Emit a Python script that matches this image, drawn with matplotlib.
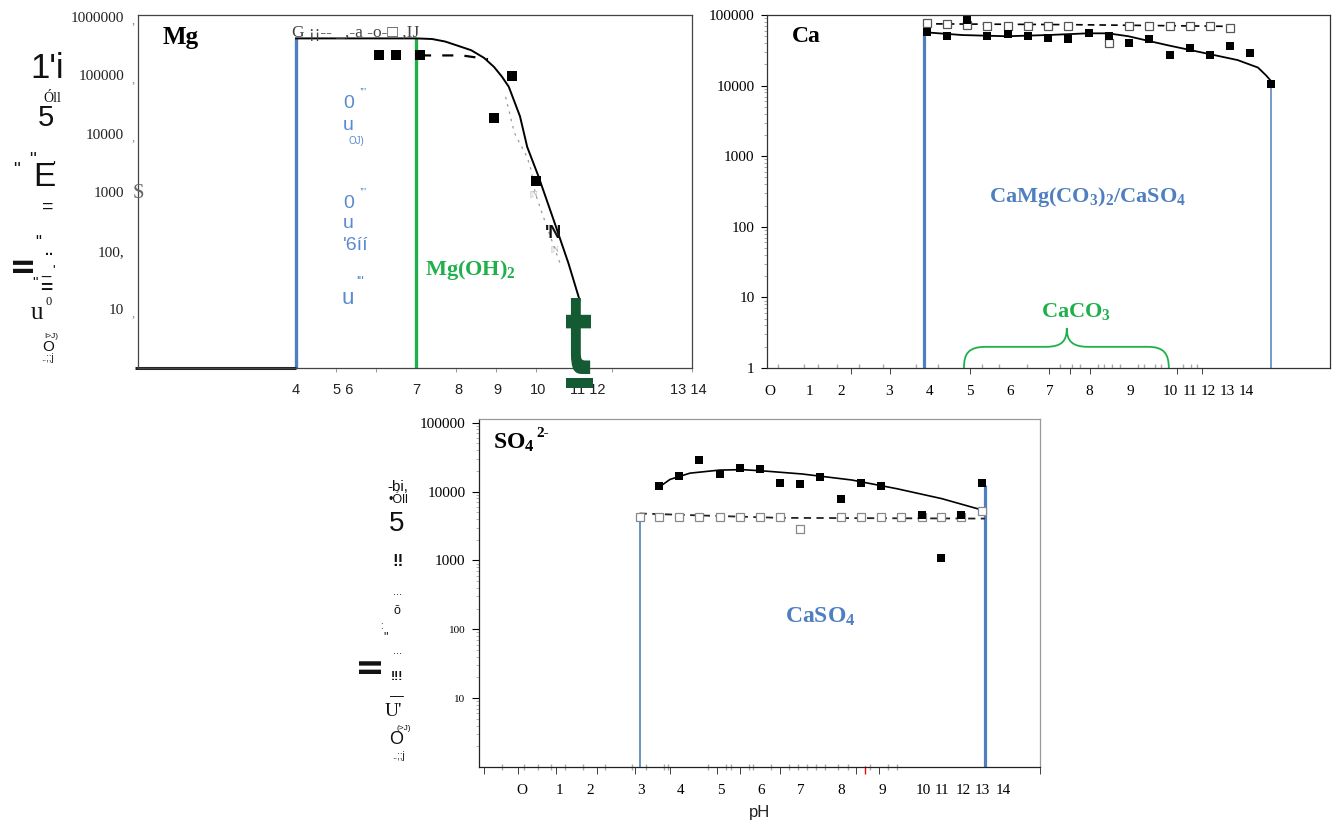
import matplotlib
matplotlib.use('Agg')
import matplotlib.pyplot as plt
from matplotlib.textpath import TextPath
from matplotlib.patches import PathPatch, Rectangle
from matplotlib.font_manager import FontProperties
from matplotlib.transforms import Affine2D, IdentityTransform, blended_transform_factory
from matplotlib.path import Path
from matplotlib.ticker import NullLocator, LogLocator

W, H = 1333, 824
plt.rcParams['mathtext.default'] = 'regular'
SERIF = ['Liberation Serif', 'DejaVu Serif']
SANS = ['Liberation Sans', 'DejaVu Sans']
BLUE = '#4f7fc0'
BLUE2 = '#5b8ad0'
GREEN = '#1fb04c'
DKGREEN = '#145a32'

# ---------------- data: Mg ----------------
mg_curve_ph = [4.0, 5.5, 7.0, 7.4, 7.73, 8.0, 8.38, 8.7, 8.95, 9.15, 9.32, 9.6, 9.78, 10.06, 10.44, 10.81, 11.09]
mg_curve_val = [4.3e5, 4.3e5, 4.3e5, 4.2e5, 3.8e5, 3.3e5, 2.7e5, 2.0e5, 1.4e5, 9.5e4, 6.4e4, 2.0e4, 6.0e3, 1.9e3, 3.4e2, 62, 14.5]
mg_sq_ph = [6.07, 6.49, 7.1, 9.41, 8.95, 9.99]
mg_sq_val = [2.2e5, 2.2e5, 2.2e5, 9.9e4, 1.9e4, 1.57e3]
mg_dash_ph = [7.1, 8.15, 8.8]
mg_dash_val = [2.2e5, 2.2e5, 1.9e5]
mg_gray_ph = [9.24, 9.46, 9.78, 9.88, 9.98, 10.15, 10.48, 10.6]
mg_gray_val = [4.3e4, 1.04e4, 4.0e3, 2.4e3, 980, 445, 104, 62]
mg_vline_blue = 4.0
mg_vline_green = 7.0
mg_vline_top = 4.3e5
mg_xlabel_pos = [4, 5.19, 7, 8.05, 9.04, 10.04, 11.3, 13.8]
mg_xlabels = ['4', '5 6', '7', '8', '9', '10', '11 12', '13 14']
mg_xmark_pos = [4, 5, 6, 7, 8, 9, 10, 11.9, 13.9]
mg_ytick_val = [10, 100, 1000, 1e4, 1e5, 1e6]
mg_ylabels = ['10', '100,', '1000', '10000', '100000', '1000000']

# ---------------- data: Ca ----------------
ca_curve_ph = [3.86, 4.81, 5.92, 6.93, 7.95, 8.45, 8.96, 9.46, 9.97, 10.98, 11.69, 12.2, 12.4, 12.52]
ca_curve_val = [5.7e4, 5.2e4, 5.0e4, 5.2e4, 5.5e4, 5.5e4, 5.0e4, 4.3e4, 3.7e4, 2.8e4, 2.3e4, 1.8e4, 1.4e4, 1.17e4]
ca_fill_ph = [3.93, 4.42, 4.93, 5.43, 5.94, 6.45, 6.95, 7.46, 7.97, 8.47, 8.98, 9.48, 9.99, 10.5, 11.0, 11.5, 12.0, 12.52]
ca_fill_val = [5.7e4, 5.0e4, 8.6e4, 5.0e4, 5.4e4, 5.0e4, 4.8e4, 4.6e4, 5.5e4, 5.1e4, 4.0e4, 4.5e4, 2.7e4, 3.4e4, 2.7e4, 3.6e4, 2.9e4, 1.07e4]
ca_open_ph = [3.93, 4.43, 4.93, 5.43, 5.94, 6.45, 6.95, 7.46, 8.47, 8.98, 9.48, 9.99, 10.5, 11.0, 11.5]
ca_open_val = [7.6e4, 7.4e4, 7.2e4, 6.9e4, 6.9e4, 6.9e4, 6.9e4, 6.9e4, 4.0e4, 6.9e4, 6.9e4, 6.9e4, 6.9e4, 6.9e4, 6.6e4]
ca_dash_ph = [3.86, 7.5, 11.5]
ca_dash_val = [7.5e4, 7.3e4, 6.9e4]
ca_vline_thick = (3.86, 5.7e4)
ca_vline_thin = (12.52, 1.1e4)
ca_xlabel_pos = [0, 0.98, 1.77, 2.97, 3.98, 5.0, 6.0, 7.0, 7.99, 9.02, 10.0, 10.5, 10.95, 11.42, 11.9]
ca_xlabels = ['O', '1', '2', '3', '4', '5', '6', '7', '8', '9', '10', '11', '12', '13', '14']
ca_xmark_pos = [0, 0.98, 2.02, 2.99, 3.98, 4.99, 6.0, 6.98, 7.5, 8.0, 9.02, 10.17, 10.81]
ca_gray_pos = [0.2, 0.84, 1.21, 1.67, 2.23, 2.83, 3.64, 4.2, 5.31, 5.72, 6.43, 7.24, 7.54, 7.74, 8.2,
               8.35, 8.55, 8.76, 9.21, 9.36, 9.62, 9.77, 10.32, 10.53, 10.68]
ca_ytick_val = [1, 10, 100, 1000, 1e4, 1e5]
ca_ylabels = ['1', '10', '100', '1000', '10000', '100000']

# ---------------- data: SO4 ----------------
so4_curve_ph = [3.42, 3.7, 4.2, 4.94, 5.5, 6.0, 7.0, 8.25, 9.37, 10.49, 11.5]
so4_curve_val = [1.15e4, 1.5e4, 1.85e4, 2.05e4, 2.08e4, 2.0e4, 1.8e4, 1.47e4, 1.1e4, 7.9e3, 5.4e3]
so4_fill_ph = [3.42, 3.93, 4.43, 4.94, 5.44, 5.95, 6.45, 6.96, 7.46, 7.97, 8.47, 8.98, 9.99, 10.47, 10.98, 11.5]
so4_fill_val = [1.2e4, 1.66e4, 2.9e4, 1.8e4, 2.2e4, 2.1e4, 1.35e4, 1.28e4, 1.6e4, 7.9e3, 1.33e4, 1.2e4, 4.6e3, 1.07e3, 4.6e3, 1.33e4]
so4_open_ph = [2.94, 3.43, 3.93, 4.43, 4.94, 5.44, 5.95, 6.45, 6.96, 7.97, 8.47, 8.98, 9.48, 9.99, 10.47, 10.98, 11.5]
so4_open_val = [4.2e3, 4.2e3, 4.2e3, 4.2e3, 4.2e3, 4.2e3, 4.2e3, 4.2e3, 2.9e3, 4.2e3, 4.2e3, 4.2e3, 4.2e3, 4.2e3, 4.2e3, 4.2e3, 5.2e3]
so4_dash_ph = [2.94, 5.0, 6.45, 11.57]
so4_dash_val = [4.8e3, 4.4e3, 4.15e3, 4.05e3]
so4_vline_thin = (2.94, 4.3e3)
so4_vline_thick = (11.57, 1.24e4)
so4_xlabel_pos = [0, 0.93, 1.71, 2.97, 3.96, 4.96, 5.97, 6.96, 7.99, 9.0, 10.04, 10.5, 11.02, 11.5, 12.04]
so4_xlabels = ['O', '1', '2', '3', '4', '5', '6', '7', '8', '9', '10', '11', '12', '13', '14']
so4_xmark_pos = [-0.95, -0.11, 0.84, 1.87, 2.83, 3.7, 4.88, 5.44, 5.97, 6.45, 8.36, 8.92, 12.95]
so4_gray_pos = [-0.5, 0.06, 0.39, 0.73, 1.07, 1.52, 2.08, 2.75, 3.09, 3.54, 3.65, 4.66, 5.11, 5.22, 5.67,
                5.78, 6.23, 6.68, 6.9, 7.13, 7.35, 7.58, 7.91, 8.14, 8.7, 9.15, 9.37]
so4_red_pos = 8.57
so4_ytick_val = [10, 100, 1000, 1e4, 1e5]
so4_ylabels = ['10', '100', '1000', '10000', '100000']

# ---------------- figure ----------------
fig = plt.figure(figsize=(W / 100, H / 100), dpi=100)


def add_ax(l, t, r, b):
    return fig.add_axes([l / W, 1 - b / H, (r - l) / W, (b - t) / H])


def ftext(px, py, s, **kw):
    kw.setdefault('ha', 'center')
    kw.setdefault('va', 'center')
    return fig.text(px / W, 1 - py / H, s, **kw)


def bx(ax):
    return blended_transform_factory(ax.transData, ax.transAxes)


# ======== Mg panel ========
ax1 = add_ax(138, 15, 692, 368)
ax1.set_yscale('log')
ax1.set_xlim(0.05, 13.9)
ax1.set_ylim(1, 1.08e6)
ax1.vlines([mg_vline_blue], 1, mg_vline_top, color=BLUE, lw=2.4)
ax1.vlines([mg_vline_green], 1, mg_vline_top, color=GREEN, lw=2.4)
ax1.plot(mg_gray_ph, mg_gray_val, color='#9a9a9a', lw=0.9, ls=(0, (2, 4)))
ax1.plot(mg_curve_ph, mg_curve_val, color='k', lw=1.4)
ax1.plot(mg_dash_ph, mg_dash_val, color='k', lw=1.6, ls=(0, (5, 5)))
ax1.plot(mg_sq_ph, mg_sq_val, 's', color='k', ms=7.5, mew=0)
ax1.yaxis.set_minor_locator(NullLocator())
ax1.set_yticks(mg_ytick_val, mg_ylabels)
ax1.tick_params(axis='y', length=0, pad=10, labelsize=11, labelcolor='#222')
for lab in ax1.get_yticklabels():
    lab.set_fontfamily(SERIF)
ax1.set_xticks(mg_xlabel_pos, mg_xlabels)
ax1.set_xticks(mg_xmark_pos, minor=True)
ax1.tick_params(axis='x', which='major', length=0, pad=11, labelsize=10.5, labelcolor='#222')
ax1.tick_params(axis='x', which='minor', length=3, color='#888', direction='out')
for lab in ax1.get_xticklabels():
    lab.set_fontfamily(SANS)
for s in ax1.spines.values():
    s.set_color('#444')
    s.set_linewidth(0.9)
ax1.plot([-0.03, 4.0], [0, 0], transform=bx(ax1), color='#222', lw=2.2,
         clip_on=False, solid_capstyle='butt')
yb1 = blended_transform_factory(ax1.transAxes, ax1.transData)
for v in [10, 1e4, 1e5, 1e6]:
    ax1.text(-0.006, v * 0.85, ',', transform=yb1, ha='right', va='center',
             color='#888', fontsize=9, family=SERIF)
ftext(138, 194, 'S', color='#666', fontsize=15, family=SERIF)
ftext(292, 33, 'G ¡¡-- _,-a -o-□ ,IJ', ha='left', color='#444', fontsize=12.5, family=SERIF)
ax1.text(0.045, 0.935, 'Mg', transform=ax1.transAxes, fontsize=18, fontweight='bold',
         family=SERIF, va='center')
ax1.text(0.518, 0.278, 'Mg(OH)$_2$', transform=ax1.transAxes, color=GREEN, fontsize=16,
         fontweight='bold', family=SERIF, va='center')
ftext(554, 234, "'N", fontsize=13, fontweight='bold', family=SANS, color='#111')
for (px, py) in [(555, 250), (534, 195)]:
    ftext(px, py, '[N', fontsize=6, color='#aaa', family=SERIF)

# blue garbage glyphs
for (px, py, s, fs) in [(349, 104, '0', 14), (363, 94, '’’’', 9), (348, 125, 'u', 14),
                        (356, 141, 'OJ)', 7), (349, 204, '0', 14), (363, 194, '’’’', 9),
                        (348, 224, 'u', 14), (356, 246, "'6íí", 14), (348, 298, 'u', 16),
                        (360, 282, "'''", 10)]:
    ftext(px, py, s, color=BLUE2, fontsize=fs, family=SANS)

# left garbage glyphs (Mg)
for (px, py, s, fs, fam, wt) in [
        (47, 68, "1'i", 25, SANS, 'normal'), (52, 99, 'Óll', 10, SERIF, 'normal'),
        (46, 118, '5', 21, SANS, 'normal'), (16, 170, '"', 14, SANS, 'normal'),
        (32, 160, '"', 14, SANS, 'normal'), (44, 178, 'E', 24, SANS, 'normal'),
        (54, 167, "'", 11, SANS, 'normal'), (48, 207, '=', 14, SANS, 'normal'),
        (38, 243, '"', 12, SANS, 'normal'), (49, 251, '..', 10, SANS, 'bold'),
        (35, 283, '"', 11, SANS, 'normal'), (46, 271, '_', 12, SANS, 'normal'),
        (54, 271, "'", 10, SANS, 'normal'), (46, 289, '=', 15, SANS, 'bold'),
        (37, 313, 'u', 18, SERIF, 'normal'), (49, 302, '0', 9, SERIF, 'normal'),
        (51, 336, 'I>J)', 6, SANS, 'normal'), (48, 347, 'O', 11, SANS, 'normal'),
        (47, 358, '..;;j', 7, SANS, 'normal')]:
    ftext(px, py, s, fontsize=fs, family=fam, fontweight=wt, color='#111')
ftext(24, 264, 'II', fontsize=21, family=SANS, fontweight='bold', rotation=90, color='#111')

# big dark green "t"
fp = FontProperties(family=['DejaVu Sans'], weight='bold')
tp = TextPath((0, 0), 't', size=1, prop=fp)
ext = tp.get_extents()
tr = Affine2D().translate(-ext.x0, -ext.y0).scale(25 / ext.width, 76 / ext.height).translate(566, H - 374)
fig.add_artist(PathPatch(tp, transform=tr, facecolor=DKGREEN, edgecolor='none', zorder=5))
fig.add_artist(Rectangle((566, H - 388), 27, 10, transform=IdentityTransform(),
                         facecolor=DKGREEN, edgecolor='none', zorder=5))

# ======== Ca panel ========
ax2 = add_ax(767, 15, 1330, 368)
ax2.set_yscale('log')
ax2.set_xlim(-0.075, 14.0)
ax2.set_ylim(1, 1e5)
ax2.vlines([ca_vline_thick[0]], 1, ca_vline_thick[1], color=BLUE, lw=2.3)
ax2.vlines([ca_vline_thin[0]], 1, ca_vline_thin[1], color=BLUE, lw=1.1)
ax2.plot(ca_dash_ph, ca_dash_val, color='k', lw=1.2, ls=(0, (4, 3)))
ax2.plot(ca_curve_ph, ca_curve_val, color='k', lw=1.3)
ax2.plot(ca_open_ph, ca_open_val, 's', mfc='white', mec='#555', mew=0.9, ms=6)
ax2.plot(ca_fill_ph, ca_fill_val, 's', color='k', ms=6, mew=0)
ax2.set_yticks(ca_ytick_val, ca_ylabels)
ax2.yaxis.set_minor_locator(LogLocator(base=10, subs=range(2, 10)))
ax2.tick_params(axis='y', which='major', length=4, direction='out', pad=5, labelsize=11)
ax2.tick_params(axis='y', which='minor', length=2.5, direction='out', color='#999', labelleft=False)
for lab in ax2.get_yticklabels():
    lab.set_fontfamily(SERIF)
ax2.set_xticks(ca_xlabel_pos, ca_xlabels)
ax2.set_xticks(ca_xmark_pos, minor=True)
ax2.tick_params(axis='x', which='major', length=0, pad=12, labelsize=11)
ax2.tick_params(axis='x', which='minor', length=4, direction='out', color='#222')
for lab in ax2.get_xticklabels():
    lab.set_fontfamily(SERIF)
ax2.plot(ca_gray_pos, [0.006] * len(ca_gray_pos), ls='none', marker='|', ms=3.5,
         color='#aaa', transform=bx(ax2), clip_on=False)
for s in ax2.spines.values():
    s.set_color('#333')
    s.set_linewidth(0.9)
ax2.text(0.0435, 0.938, 'Ca', transform=ax2.transAxes, fontsize=17, fontweight='bold',
         family=SERIF, va='center')
ax2.text(7.94, 0.484, 'CaMg(CO$_3$)$_2$/CaSO$_4$', transform=bx(ax2), color=BLUE, fontsize=16,
         fontweight='bold', family=SERIF, ha='center', va='center')
ax2.text(7.65, 0.159, 'CaCO$_3$', transform=bx(ax2), color=GREEN, fontsize=16,
         fontweight='bold', family=SERIF, ha='center', va='center')
brace_verts = [(4.85, 0.0), (4.85, 0.04), (4.95, 0.06), (5.4, 0.06),
               (6.9, 0.06),
               (7.3, 0.06), (7.42, 0.077), (7.42, 0.113),
               (7.42, 0.077), (7.55, 0.06), (7.95, 0.06),
               (9.45, 0.06),
               (9.85, 0.06), (9.97, 0.04), (9.97, 0.0)]
brace_codes = [Path.MOVETO, Path.CURVE4, Path.CURVE4, Path.CURVE4,
               Path.LINETO,
               Path.CURVE4, Path.CURVE4, Path.CURVE4,
               Path.CURVE4, Path.CURVE4, Path.CURVE4,
               Path.LINETO,
               Path.CURVE4, Path.CURVE4, Path.CURVE4]
ax2.add_patch(PathPatch(Path(brace_verts, brace_codes), transform=bx(ax2), facecolor='none',
                        edgecolor=GREEN, lw=1.3, clip_on=False))

# ======== SO4 panel ========
ax3 = add_ax(478.6, 419.3, 1040, 767)
ax3.set_yscale('log')
ax3.set_xlim(-1.085, 12.95)
ax3.set_ylim(1, 1.12e5)
ax3.vlines([so4_vline_thin[0]], 1, so4_vline_thin[1], color=BLUE, lw=1.2)
ax3.vlines([so4_vline_thick[0]], 1, so4_vline_thick[1], color=BLUE, lw=2.3)
ax3.plot(so4_dash_ph, so4_dash_val, color='#222', lw=1.3, ls=(0, (4, 3)))
ax3.plot(so4_curve_ph, so4_curve_val, color='k', lw=1.2)
ax3.plot(so4_open_ph, so4_open_val, 's', mfc='white', mec='#888', mew=0.9, ms=6)
ax3.plot(so4_fill_ph, so4_fill_val, 's', color='k', ms=6, mew=0)
ax3.set_yticks(so4_ytick_val, so4_ylabels)
ax3.yaxis.set_minor_locator(LogLocator(base=10, subs=range(2, 10)))
ax3.tick_params(axis='y', which='major', length=5, direction='out', pad=4.5, labelsize=11)
ax3.tick_params(axis='y', which='minor', length=2.5, direction='out', color='#aaa', labelleft=False)
for lab in ax3.get_yticklabels():
    lab.set_fontfamily(SERIF)
    if lab.get_text() in ('10', '100'):
        lab.set_fontsize(8)
ax3.set_xticks(so4_xlabel_pos, so4_xlabels)
ax3.set_xticks(so4_xmark_pos, minor=True)
ax3.tick_params(axis='x', which='major', length=0, pad=12, labelsize=11)
ax3.tick_params(axis='x', which='minor', length=5, direction='out', color='#222')
for lab in ax3.get_xticklabels():
    lab.set_fontfamily(SERIF)
ax3.plot(so4_gray_pos, [0.0] * len(so4_gray_pos), ls='none', marker='|', ms=4,
         color='#aaa', transform=bx(ax3), clip_on=False)
ax3.plot([so4_red_pos], [-0.008], ls='none', marker='|', ms=6, color='red',
         transform=bx(ax3), clip_on=False)
ax3.spines['top'].set_color('#999')
ax3.spines['right'].set_color('#999')
ax3.spines['left'].set_color('#222')
ax3.spines['bottom'].set_color('#222')
for s in ax3.spines.values():
    s.set_linewidth(0.9)
ax3.text(0.026, 0.932, 'SO$_4$', transform=ax3.transAxes, fontsize=17, fontweight='bold',
         family=SERIF, va='center')
ftext(536, 433, '2-', ha='left', fontsize=11, fontweight='bold', family=SERIF, color='k')
ax3.text(7.45, 0.432, 'CaSO$_4$', transform=bx(ax3), color=BLUE, fontsize=17,
         fontweight='bold', family=SERIF, ha='center', va='center')
ftext(760, 813, 'pH', fontsize=12, family=SANS, color='#222')

# left garbage glyphs (SO4)
for (px, py, s, fs, fam, wt) in [
        (398, 487, '-bi,', 11, SANS, 'normal'), (398, 500, '•Óll', 9, SANS, 'normal'),
        (397, 524, '5', 20, SANS, 'normal'), (398, 562, '!!', 12, SANS, 'bold'),
        (397, 592, '...', 8, SANS, 'normal'), (397, 611, 'ŏ', 9, SANS, 'normal'),
        (381, 626, ':', 7, SANS, 'normal'), (386, 637, '"', 9, SANS, 'normal'),
        (397, 651, '...', 8, SANS, 'normal'), (397, 677, '!!!', 9, SANS, 'bold'),
        (397, 696, '—', 10, SANS, 'normal'), (393, 712, "U'", 14, SERIF, 'normal'),
        (404, 729, '(>J)', 6, SANS, 'normal'), (396, 739, 'O', 13, SANS, 'normal'),
        (398, 756, '..;;j', 7, SANS, 'normal')]:
    ftext(px, py, s, fontsize=fs, family=fam, fontweight=wt, color='#111')
ftext(372, 665, 'II', fontsize=22, family=SANS, fontweight='bold', rotation=90, color='#111')

fig.savefig('out.png', dpi=100)
